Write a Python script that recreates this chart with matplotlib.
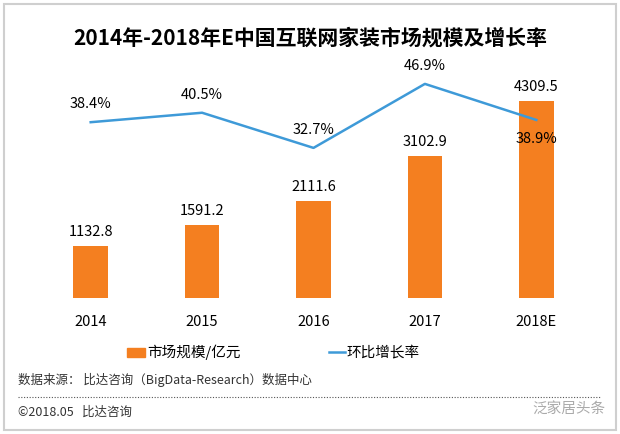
import matplotlib
matplotlib.use("Agg")
import matplotlib.pyplot as plt
from matplotlib.patches import Rectangle
from matplotlib.lines import Line2D

plt.rcParams['font.family'] = ['Noto Sans CJK SC', 'DejaVu Sans']

categories = ["2014", "2015", "2016", "2017", "2018E"]
market_size = [1132.8, 1591.2, 2111.6, 3102.9, 4309.5]
growth_rate = [38.4, 40.5, 32.7, 46.9, 38.9]
title = "2014年-2018年E中国互联网家装市场规模及增长率"
legend_bar = "市场规模/亿元"
legend_line = "环比增长率"
source_text = "数据来源： 比达咨询（BigData-Research）数据中心"
copyright_text = "©2018.05   比达咨询"
watermark = "泛家居头条"

W, H = 620, 434
fig = plt.figure(figsize=(W / 100, H / 100), dpi=100)
fig.patch.set_facecolor("white")

def px_rect(l, t, r, b):
    return [l / W, 1 - b / H, (r - l) / W, (b - t) / H]

orange = "#F47F20"
blue = "#3E9AD8"

ax = fig.add_axes(px_rect(35, 60, 592, 298))
x = list(range(len(categories)))
ax.bar(x, market_size, width=0.31, color=orange, zorder=2)
ax.set_xlim(-0.5, len(categories) - 0.5)
ax.set_ylim(0, 5200)
for s in ax.spines.values():
    s.set_visible(False)
ax.set_yticks([])
ax.set_xticks(x)
ax.set_xticklabels(categories, fontsize=10.5)
ax.tick_params(axis='x', length=0, pad=12)
for xi, v in zip(x, market_size):
    ax.annotate(f"{v:.1f}", (xi, v), xytext=(0, 5), textcoords="offset points",
                ha="center", va="bottom", fontsize=10.5)

ax2 = ax.twinx()
ax2.plot(x, growth_rate, color=blue, lw=1.8, zorder=3)
ax2.set_ylim(-0.6, 52.2)
ax2.set_yticks([])
for s in ax2.spines.values():
    s.set_visible(False)
for i, (xi, v) in enumerate(zip(x, growth_rate)):
    if i == len(x) - 1:
        ax2.annotate(f"{v:.1f}%", (xi, v), xytext=(0, -9), textcoords="offset points",
                     ha="center", va="top", fontsize=10.5)
    else:
        ax2.annotate(f"{v:.1f}%", (xi, v), xytext=(0, 8), textcoords="offset points",
                     ha="center", va="bottom", fontsize=10.5)

# title
fig.text(310 / W, 1 - 38 / H, title, ha="center", va="center", fontsize=15, fontweight="bold")

# legend
fig.patches.append(Rectangle((127 / W, 1 - 357 / H), 18 / W, 9 / H, transform=fig.transFigure,
                             color=orange, figure=fig))
fig.text(147 / W, 1 - 352 / H, legend_bar, ha="left", va="center", fontsize=10.5)
fig.lines.append(Line2D([329 / W, 345 / W], [1 - 352 / H, 1 - 352 / H], transform=fig.transFigure,
                        color=blue, lw=1.8, figure=fig))
fig.text(346 / W, 1 - 352 / H, legend_line, ha="left", va="center", fontsize=10.5)

# source
fig.text(18 / W, 1 - 380 / H, source_text, ha="left", va="center", fontsize=9, color="#333333")
fig.lines.append(Line2D([18 / W, 600 / W], [1 - 397 / H, 1 - 397 / H], transform=fig.transFigure,
                        color="#555555", lw=0.8, ls=(0, (1, 1.5)), figure=fig))
fig.text(18 / W, 1 - 412 / H, copyright_text, ha="left", va="center", fontsize=9, color="#333333")
fig.text(606 / W, 1 - 410 / H, watermark, ha="right", va="center", fontsize=10.5, color="#aaaaaa")

# outer frame
fig.patches.append(Rectangle((4 / W, 4 / H), (W - 8) / W, (H - 8) / H, transform=fig.transFigure,
                             fill=False, edgecolor="#cfcfcf", lw=1.5, figure=fig))

fig.savefig("out.png", dpi=100, facecolor="white")
